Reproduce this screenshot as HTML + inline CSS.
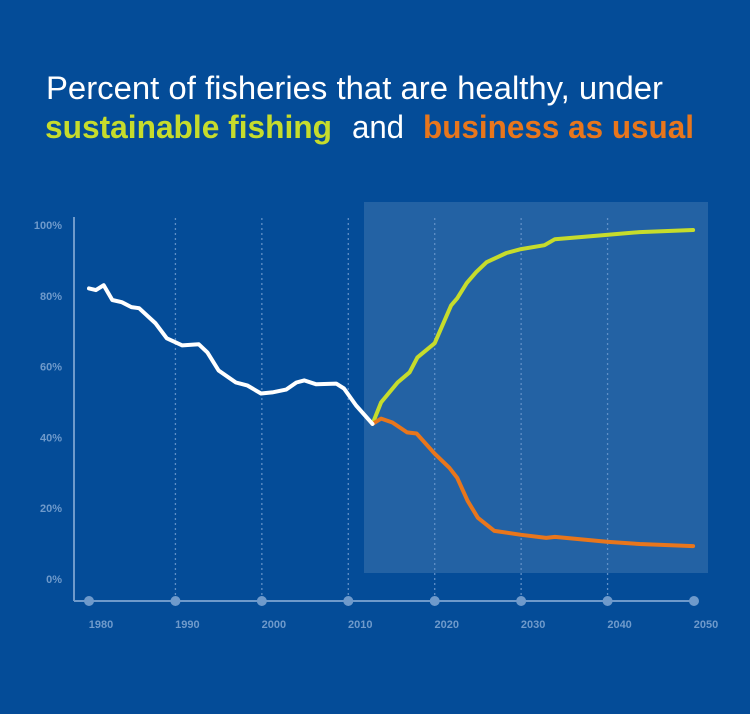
<!DOCTYPE html>
<html><head><meta charset="utf-8"><style>
html,body{margin:0;padding:0;background:#044c98;}
svg{display:block;font-family:"Liberation Sans",sans-serif;}
</style></head><body>
<svg width="750" height="714" viewBox="0 0 750 714">
<rect x="0" y="0" width="750" height="714" fill="#044c98"/>
<text x="46" y="99" font-size="32" fill="#ffffff" textLength="617" lengthAdjust="spacingAndGlyphs">Percent of fisheries that are healthy, under</text>
<text x="45" y="138" font-size="32" font-weight="bold" fill="#c6dc2c" textLength="287" lengthAdjust="spacingAndGlyphs">sustainable fishing</text>
<text x="352" y="138" font-size="32" fill="#ffffff" textLength="52" lengthAdjust="spacingAndGlyphs">and</text>
<text x="423" y="138" font-size="32" font-weight="bold" fill="#e8761c" textLength="271" lengthAdjust="spacingAndGlyphs">business as usual</text>
<rect x="364" y="202" width="344" height="371" fill="#2362a4"/>
<g id="grid"></g>
<line x1="74" y1="217" x2="74" y2="601" stroke="#6f9acb" stroke-width="2"/>
<line x1="74" y1="601" x2="696" y2="601" stroke="#6f9acb" stroke-width="2"/>
<g id="ticks"></g>
<g id="series"></g>
</svg>
<script>
const xTicks=[1980,1990,2000,2010,2020,2030,2040,2050];
const yTicks=[0,20,40,60,80,100];
const histYears=[1980,1980.8,1981.7,1982.7,1983.8,1984.9,1985.8,1987.7,1989,1990.8,1992.7,1993.7,1995,1997,1998.3,1999.9,2001.2,2002.8,2004,2004.9,2006.3,2008.6,2009.5,2010.9,2012.8];
const histValues=[82.1,81.6,83.0,78.8,78.2,76.8,76.5,72.2,68,66,66.3,64,58.9,55.5,54.7,52.4,52.7,53.5,55.5,56.1,55,55.2,53.8,49,43.8];
const sustYears=[2012.8,2013.8,2015.7,2017.1,2018,2020,2020.9,2021.9,2022.6,2023.7,2024.8,2026,2028.3,2030,2032.7,2033.9,2039.9,2043.7,2049.9];
const sustValues=[43.8,49.9,55.5,58.4,62.6,66.6,71.7,77.3,79.3,83.6,86.7,89.5,92.1,93.2,94.3,96,97.2,98,98.6];
const bauYears=[2012.8,2013.8,2015.1,2016.8,2017.9,2020,2021.7,2022.6,2023.8,2025,2026.9,2030,2032.9,2033.9,2039.9,2043.7,2049.9];
const bauValues=[43.8,45.3,44.2,41.4,41.1,35.4,31.4,28.6,22.1,17.3,13.6,12.5,11.6,11.9,10.5,9.9,9.3];

const NS="http://www.w3.org/2000/svg";
const xs=y=>89+(y-1980)*(694-89)/70;
const ys=v=>579-v*(579-225)/100;
function mk(tag,attrs,parent){const e=document.createElementNS(NS,tag);for(const k in attrs)e.setAttribute(k,attrs[k]);parent.appendChild(e);return e;}
const grid=document.getElementById('grid'),ticks=document.getElementById('ticks'),series=document.getElementById('series');
xTicks.forEach(t=>{
  if(t>1980&&t<2050){const g=mk('line',{x1:xs(t),y1:218,x2:xs(t),y2:600,stroke:'#5f8fc6','stroke-width':1.3,'stroke-dasharray':'2 3'},grid);
  
  }
  const c=mk('circle',{cx:xs(t),cy:601,r:5,fill:'#6f9acb'},ticks);
  
  
  const l=mk('text',{x:xs(t)+12,y:628,'font-size':11,'font-weight':'bold',fill:'#6f9acb','text-anchor':'middle'},ticks);
  l.textContent=t;
  
  
});
yTicks.forEach(v=>{
  const l=mk('text',{x:62,y:ys(v)+4,'font-size':11,'font-weight':'bold',fill:'#6f9acb','text-anchor':'end'},ticks);
  l.textContent=v+'%';
  
  
});
function line(yr,vals,color,name){
  const d=yr.map((y,i)=>(i?'L':'M')+xs(y).toFixed(1)+','+ys(vals[i]).toFixed(1)).join(' ');
  const p=mk('path',{d:d,fill:'none',stroke:color,'stroke-width':4,'stroke-linejoin':'round','stroke-linecap':'round'},series);
  
  
}
line(sustYears,sustValues,'#c6dc2c','sustainable-fishing-line');
line(bauYears,bauValues,'#e8761c','business-as-usual-line');
line(histYears,histValues,'#ffffff','historical-line');
</script>
</body></html>
